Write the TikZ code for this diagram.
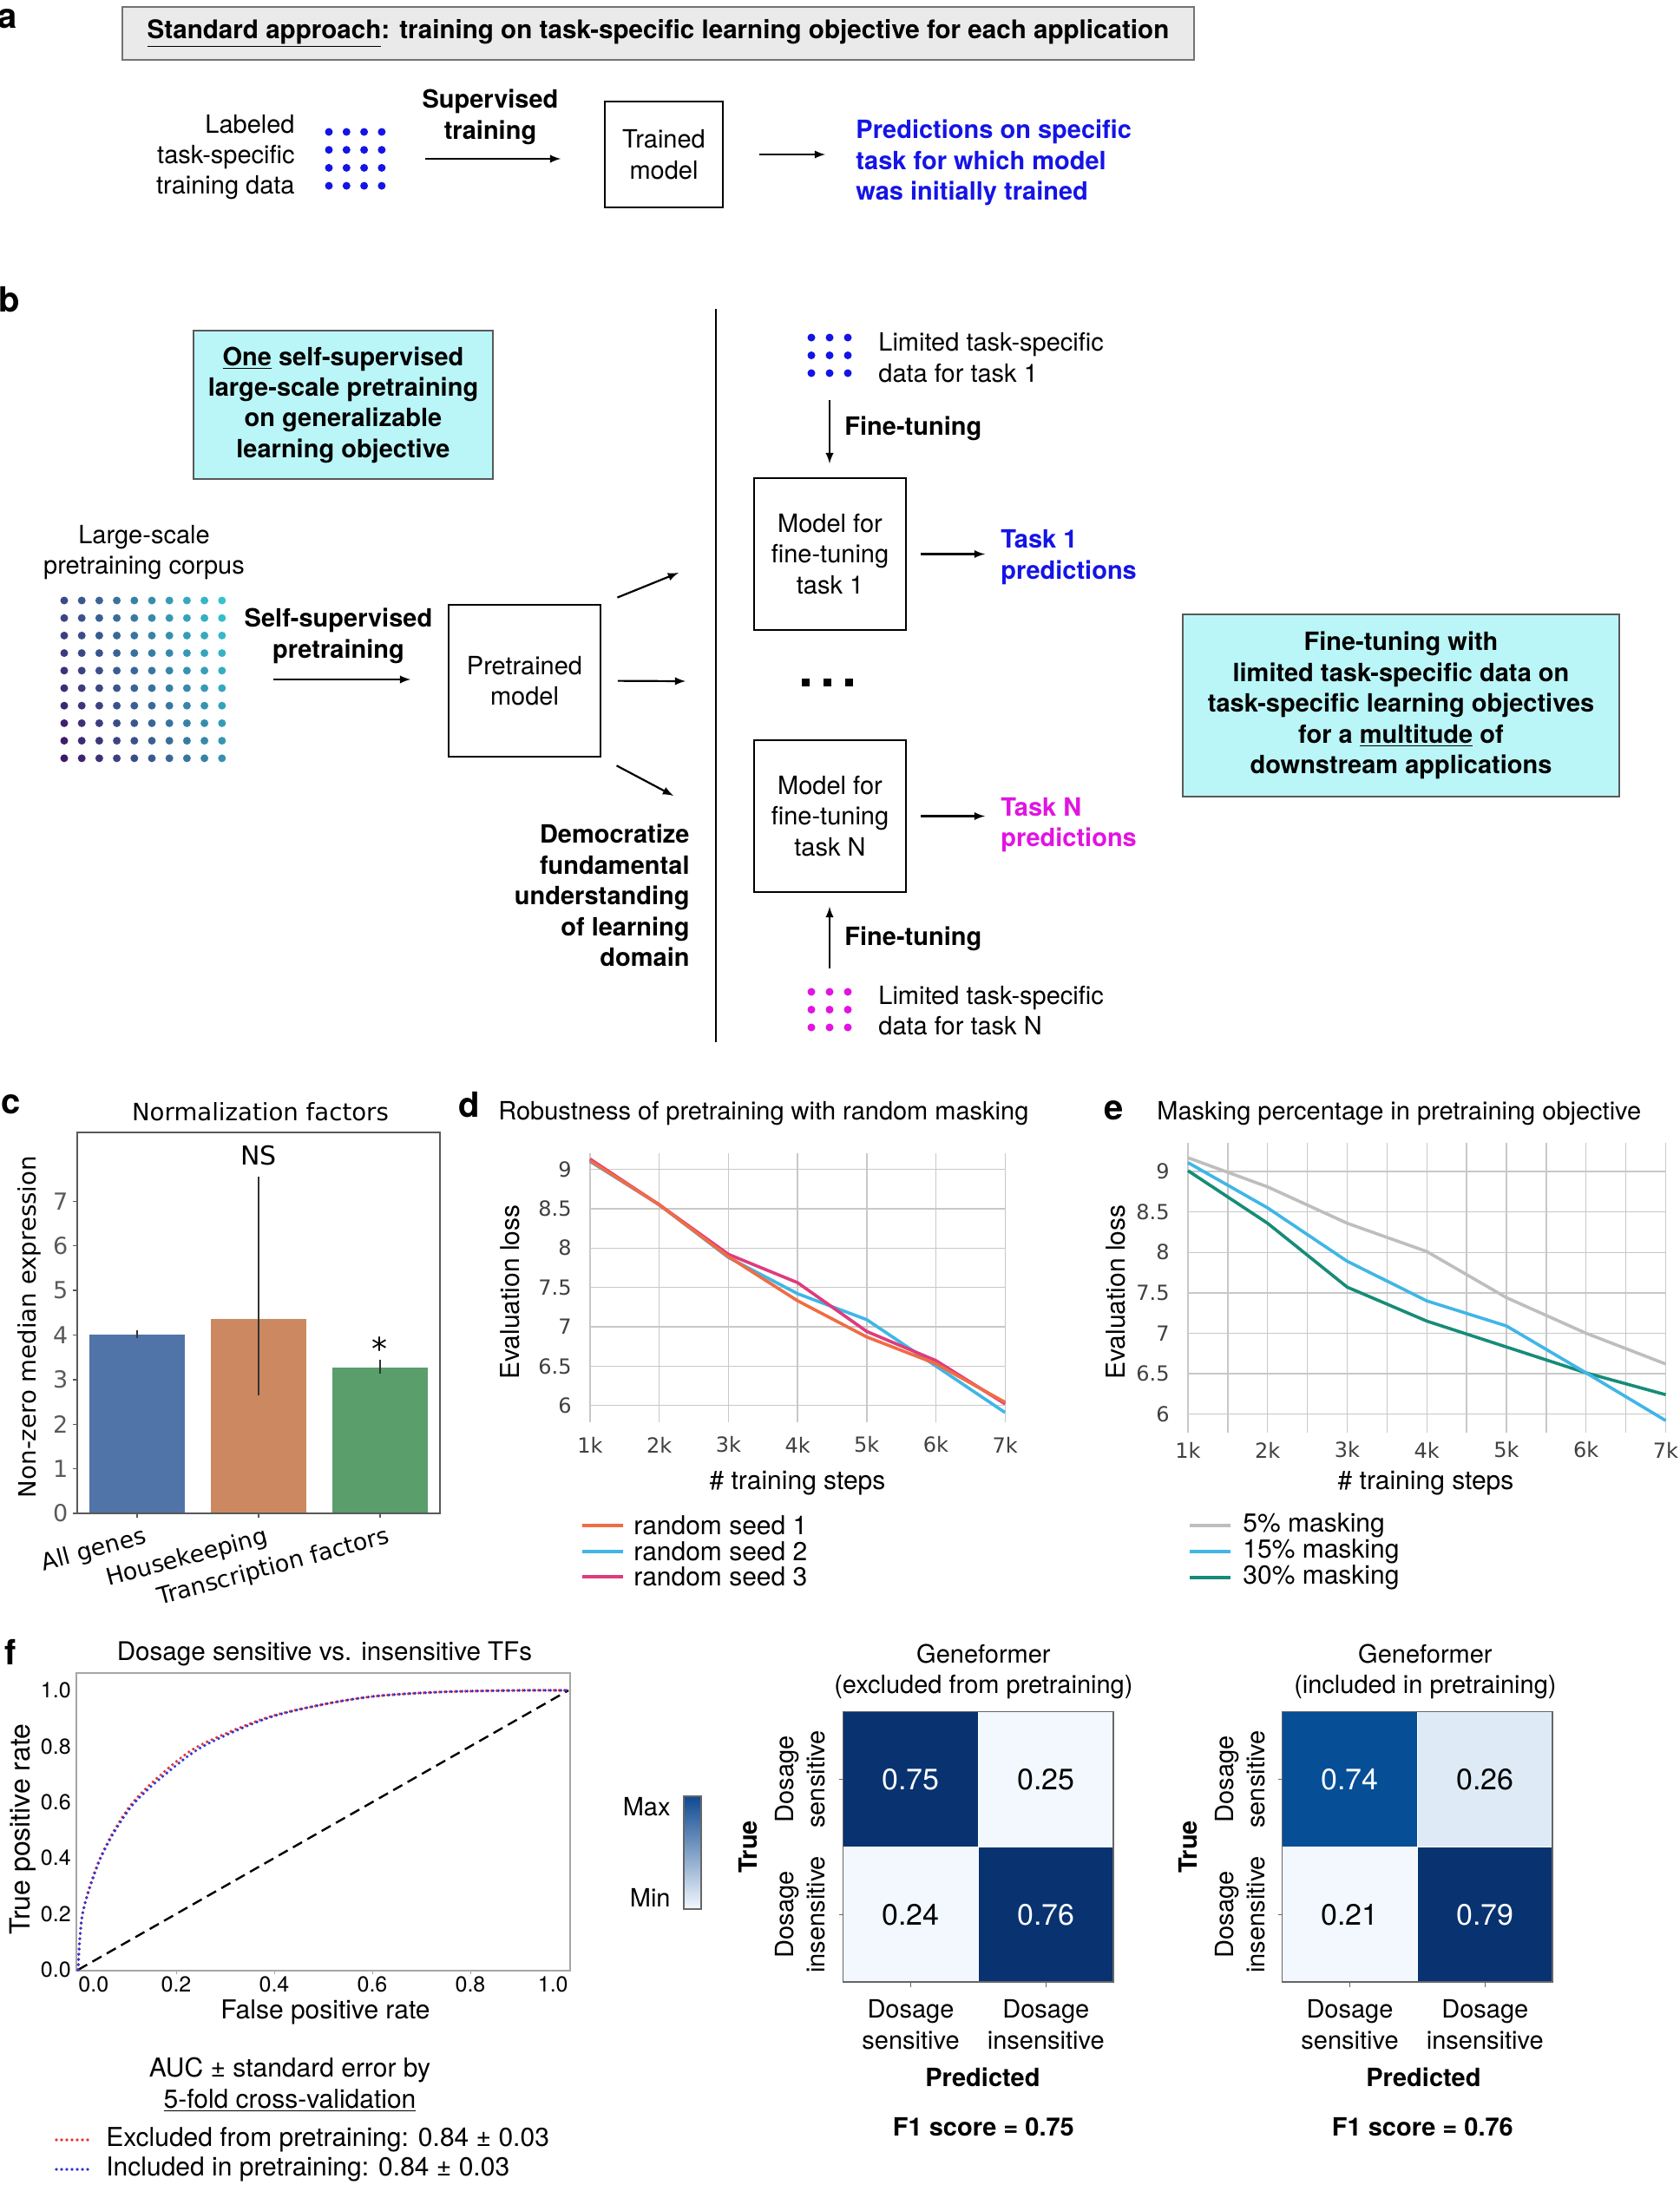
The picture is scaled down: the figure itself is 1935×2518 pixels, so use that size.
\documentclass[tikz,border=0pt]{standalone}
\usepackage{fontspec}
\setmainfont{TeX Gyre Heros}
\newfontfamily\djv{DejaVu Sans}
\usetikzlibrary{calc,arrows,positioning}
\newcommand\fsz{\fontsize{14.5}{17.7}\selectfont}
\newcommand\plotf{\djv\fontsize{12}{14}\selectfont}
\newcommand\barf{\djv\fontsize{13.5}{16}\selectfont}
\newcommand\rocf{\fontsize{12.5}{15}\selectfont}
\definecolor{txtblue}{RGB}{20,20,230}
\definecolor{txtmag}{RGB}{225,20,225}
\definecolor{boxcyan}{RGB}{186,246,248}
\definecolor{hdrgray}{RGB}{234,234,234}
\definecolor{cpurple}{RGB}{62,24,104}
\definecolor{cteal}{RGB}{52,196,206}
\definecolor{barblue}{RGB}{80,116,168}
\definecolor{barorange}{RGB}{204,136,96}
\definecolor{bargreen}{RGB}{90,158,108}
\definecolor{seedA}{RGB}{240,108,68}
\definecolor{seedB}{RGB}{64,182,230}
\definecolor{seedC}{RGB}{222,60,124}
\definecolor{maskA}{RGB}{190,190,190}
\definecolor{maskC}{RGB}{22,140,120}
\definecolor{gridgray}{RGB}{200,200,200}
\definecolor{rocred}{RGB}{230,50,50}
\definecolor{rocblue}{RGB}{50,50,210}
\definecolor{cmdark}{RGB}{8,50,112}
\definecolor{cmmid}{RGB}{6,78,150}
\definecolor{cmpale}{RGB}{222,235,247}
\definecolor{cmlight}{RGB}{242,248,254}
\definecolor{cbtop}{RGB}{16,74,145}

\begin{document}
\begin{tikzpicture}[x=0.5pt, y=-0.5pt, >=latex,
    every node/.style={inner sep=0pt, font=\fsz},
    txt/.style={align=center},
    lbl/.style={font=\fontsize{20}{20}\selectfont\bfseries},
    modelbox/.style={draw, line width=0.9pt, align=center, minimum width=87.5pt, minimum height=87.5pt},
    cyanbox/.style={draw=black!65, line width=0.7pt, fill=boxcyan, align=center, font=\fsz\bfseries},
    arr/.style={->, line width=1.1pt},
    gridln/.style={gridgray, line width=0.7pt},
    curve/.style={line width=1.8pt, line join=round},
    rocdot/.style={line width=1.8pt, line cap=round, dash pattern=on 0pt off 3pt},
    cell/.style={minimum width=77.5pt, minimum height=77.5pt, font=\fontsize{17}{20}\selectfont}]
\useasboundingbox (0,0) rectangle (1935,2518);

\node[lbl] (la) at (9,22) {a};
\node[fill=hdrgray, draw=black!55, line width=1pt, minimum width=617.5pt, minimum height=30.5pt, font=\fontsize{14.8}{17.7}\selectfont\bfseries] (hdr) at (758.5,38.5) {\underline{Standard approach}: training on task-specific learning objective for each application};
\node[align=right, anchor=east] (ltxt) at (340,181) {Labeled\\task-specific\\training data};
\node[minimum width=35pt, minimum height=35pt] (ad) at (409.5,183) {};
\foreach \i in {0,...,3}
  \foreach \j in {0,...,3}
    \fill[txtblue] ({379+20.3*\i},{152+20.7*\j}) circle (4.5);
\node[txt, font=\fsz\bfseries] (sup) at (565,135) {Supervised\\training};
\node[modelbox, minimum width=68pt, minimum height=61pt] (tm) at (765,178) {Trained\\model};
\node[align=left, anchor=west, text=txtblue, font=\fsz\bfseries] (pred) at (986,187.5) {Predictions on specific\\task for which model\\was initially trained};
\draw[arr, shorten <=22.75pt, shorten >=25pt] (ad.east) -- (ad.east -| tm.west);
\draw[arr, shorten <=20.5pt, shorten >=17.5pt] (tm.east) -- (tm.east -| pred.west);

\node[lbl] (lb) at (11,345) {b};
\node[cyanbox, minimum width=172.5pt, minimum height=85.5pt] (c1) at (395.5,466.5) {\underline{One} self-supervised\\large-scale pretraining\\on generalizable\\learning objective};
\node[txt] (ctxt) at (166,636.5) {Large-scale\\pretraining corpus};
\node[minimum width=95pt, minimum height=95pt] (cd) at (165,783) {};
\foreach \i in {0,...,9}
  \foreach \j in {0,...,9}{
    \pgfmathtruncatemacro\p{(70*\i+30*(9-\j))/9}
    \fill[cteal!\p!cpurple] ({74+20.2*\i},{692+20.2*\j}) circle (4.5);
  }
\node[txt, font=\fsz\bfseries] (ss) at (390,733) {Self-supervised\\pretraining};
\node[modelbox] (pm) at (604.5,784.5) {Pretrained\\model};
\draw[arr, shorten <=27.5pt, shorten >=21.5pt] (cd.east) -- (cd.east -| pm.west);
\coordinate (u1) at (782,660);
\coordinate (u2) at (790,785);
\coordinate (u3) at (776,917);
\draw[arr, shorten <=10pt] (pm.north east) -- (u1);
\draw[arr, shorten <=9.5pt] (pm.east) -- (u2);
\draw[arr, shorten <=10pt] (pm.south east) -- (u3);
\node[align=right, anchor=east, font=\fsz\bfseries] (dem) at (795,1032) {Democratize\\fundamental\\understanding\\of learning\\domain};
\draw[line width=0.9pt] (825,356) -- (825,1201);

\node[minimum width=25pt, minimum height=25pt] (bd) at (956,409.5) {};
\foreach \i in {0,...,2}
  \foreach \j in {0,...,2}
    \fill[txtblue] ({935+21*\i},{389+20.5*\j}) circle (4.5);
\node[align=left, anchor=west] (btxt) at (1012,412) {Limited task-specific\\data for task 1};
\node[modelbox] (m1) at (956.5,638.5) {Model for\\fine-tuning\\task 1};
\draw[arr, shorten <=13.25pt, shorten >=8pt] (bd.south) -- (bd.south |- m1.north);
\node[anchor=west, font=\fsz\bfseries] (ft1) at (973,494) {Fine-tuning};
\node[align=left, anchor=west, text=txtblue, font=\fsz\bfseries] (t1) at (1153,642) {Task 1\\predictions};
\draw[arr, shorten <=8pt, shorten >=9pt] (m1.east) -- (m1.east -| t1.west);
\foreach \i in {0,1,2}
  \fill ({923.5+25*\i},781.5) rectangle ++(9,9);
\node[modelbox] (mN) at (956.5,940.5) {Model for\\fine-tuning\\task N};
\node[align=left, anchor=west, text=txtmag, font=\fsz\bfseries] (tN) at (1153,950.5) {Task N\\predictions};
\draw[arr, shorten <=8pt, shorten >=9pt] (mN.east) -- (mN.east -| tN.west);
\node[minimum width=25pt, minimum height=25pt] (md) at (956,1163.5) {};
\foreach \i in {0,...,2}
  \foreach \j in {0,...,2}
    \fill[txtmag] ({935+21*\i},{1143+20.5*\j}) circle (4.5);
\node[align=left, anchor=west] (mtxt) at (1012,1164.5) {Limited task-specific\\data for task N};
\draw[arr, shorten <=11.25pt, shorten >=8pt] (md.north) -- (md.north |- mN.south);
\node[anchor=west, font=\fsz\bfseries] (ftN) at (973,1082) {Fine-tuning};
\node[cyanbox, minimum width=251.5pt, minimum height=105pt] (c2) at (1614.5,813) {Fine-tuning with\\limited task-specific data on\\task-specific learning objectives\\for a \underline{multitude} of\\downstream applications};

\node[lbl] (lc) at (13,1273) {c};
\node[font=\djv\fontsize{13.8}{16}\selectfont] (ttc) at (300,1281) {Normalization factors};
\node[rotate=90, font=\djv\fontsize{13.8}{16}\selectfont] (ylc) at (34,1529) {Non-zero median expression};
\begin{scope}[shift={(0,1744)}, yscale=-51.4]
  \fill[barblue] (103,0) rectangle (213,4.0);
  \fill[barorange] (243,0) rectangle (353,4.35);
  \fill[bargreen] (383,0) rectangle (493,3.27);
  \draw[black!65, line width=0.7pt] (89,0) rectangle (507,8.54);
  \foreach \v in {0,...,7}
    \draw[black!65, line width=0.7pt] (89,\v) -- (84,\v) node[anchor=east, xshift=-2.5pt, font=\barf] {\v};
  \foreach \x in {158,298,438}
    \draw[black!65, line width=0.7pt] (\x,0) -- (\x,-0.1);
  \draw[line width=1.3pt, black!80] (158,3.93) -- (158,4.1) (298,2.65) -- (298,7.55) (438,3.13) -- (438,3.45);
  \node[font=\djv\fontsize{15}{18}\selectfont] (ns) at (298,8.03) {NS};
  \node[font=\djv\fontsize{18}{18}\selectfont] (st) at (437,3.7) {*};
  \node[rotate=15, anchor=north east, font=\barf] (xa) at (165,-0.27) {All genes};
  \node[rotate=15, anchor=north east, font=\barf] (xb) at (305,-0.27) {Housekeeping};
  \node[rotate=15, anchor=north east, font=\barf] (xc) at (445,-0.27) {Transcription factors};
\end{scope}

\node[lbl] (ld) at (541,1273) {d};
\node[anchor=west] (ttd) at (574,1283) {Robustness of pretraining with random masking};
\node[rotate=90, font=\fontsize{15}{18}\selectfont] (yld) at (588,1489) {Evaluation loss};
\node[font=\fontsize{15}{18}\selectfont] (xld) at (919,1709) {\# training steps};
\begin{scope}[shift={(600.3,2163.8)}, xscale=79.7, yscale=-90.7]
  \foreach \k in {1,...,7}{
    \draw[gridln] (\k,5.786) -- (\k,9.2);
    \node[font=\plotf, text=black!75] (dx\k) at (\k,5.5) {\k k};
  }
  \foreach \v in {6,6.5,7,7.5,8,8.5,9}{
    \draw[gridln] (1,\v) -- (7,\v);
    \node[anchor=east, font=\plotf, text=black!75] at (0.736,\v) {\v};
  }
  \draw[seedB, curve] plot coordinates {(1,9.1) (2,8.55) (3,7.88) (4,7.42) (5,7.09) (6,6.5) (7,5.91)};
  \draw[seedC, curve] plot coordinates {(1,9.13) (2,8.55) (3,7.92) (4,7.56) (5,6.94) (6,6.57) (7,6.02)};
  \draw[seedA, curve] plot coordinates {(1,9.11) (2,8.55) (3,7.89) (4,7.33) (5,6.87) (6,6.53) (7,6.04)};
\end{scope}
\foreach \c/\t/\yy in {seedA/random seed 1/1758, seedB/random seed 2/1788, seedC/random seed 3/1817}{
  \draw[\c, line width=1.8pt] (671,\yy) -- (718,\yy);
  \node[anchor=west, font=\fontsize{15}{18}\selectfont] (lg\c) at (730,\yy) {\t};
}

\node[lbl] (le) at (1284,1280) {e};
\node[anchor=west] (tte) at (1333,1283) {Masking percentage in pretraining objective};
\node[rotate=90, font=\fontsize{15}{18}\selectfont] (yle) at (1286,1489) {Evaluation loss};
\node[font=\fontsize{15}{18}\selectfont] (xle) at (1643,1709) {\# training steps};
\begin{scope}[shift={(1277.25,2188.8)}, xscale=91.75, yscale=-93.2]
  \foreach \k in {1,1.5,...,7}
    \draw[gridln] (\k,5.77) -- (\k,9.354);
  \foreach \k in {1,...,7}
    \node[font=\plotf, text=black!75] (ex\k) at (\k,5.556) {\k k};
  \foreach \v in {6,6.5,7,7.5,8,8.5,9}{
    \draw[gridln] (1,\v) -- (7,\v);
    \node[anchor=east, font=\plotf, text=black!75] at (0.771,\v) {\v};
  }
  \draw[maskA, curve] plot coordinates {(1,9.17) (2,8.81) (3,8.36) (4,8.01) (5,7.44) (6,7.0) (7,6.62)};
  \draw[maskC, curve] plot coordinates {(1,9.01) (2,8.36) (3,7.57) (4,7.15) (5,6.83) (6,6.51) (7,6.24)};
  \draw[seedB, curve] plot coordinates {(1,9.11) (2,8.55) (3,7.89) (4,7.4) (5,7.09) (6,6.51) (7,5.92)};
\end{scope}
\foreach \c/\t/\yy in {maskA/5\% masking/1758, seedB/15\% masking/1788, maskC/30\% masking/1818}{
  \draw[\c, line width=1.8pt] (1371,\yy) -- (1418,\yy);
  \node[anchor=west, font=\fontsize{15}{18}\selectfont] (lm\c) at (1432,\yy) {\t};
}

\node[lbl] (lf) at (12,1904) {f};
\node[font=\fontsize{14.8}{18}\selectfont] (ttf) at (374,1906) {Dosage sensitive vs. insensitive TFs};
\node[rotate=90, font=\fontsize{16}{18}\selectfont] (ylf) at (26,2108) {True positive rate};
\node[font=\fontsize{15}{18}\selectfont] (xlf) at (375,2319) {False positive rate};
\begin{scope}[shift={(90,2270)}, xscale=565, yscale=-322]
  \draw[black!35, line width=0.7pt] (-0.0035,-0.003) rectangle (1.0035,1.062);
  \foreach \u in {0.2,0.4,0.6,0.8}{
    \draw[black!35] (\u,0) -- (\u,-0.015);
    \node[font=\rocf] at (\u,-0.053) {\u};
  }
  \node[anchor=west, font=\rocf] at (0,-0.053) {0.0};
  \node[anchor=east, font=\rocf] at (1,-0.053) {1.0};
  \foreach \w/\t in {0/0.0,0.2/0.2,0.4/0.4,0.6/0.6,0.8/0.8,1/1.0}
    \node[anchor=east, font=\rocf] at (-0.014,\w) {\t};
  \draw[line width=1.2pt, dash pattern=on 6pt off 3.5pt] (0,0) -- (1,1);
  \draw[rocred, rocdot] plot[smooth] coordinates {(0,0) (0.003,0.1) (0.009,0.2) (0.024,0.3) (0.045,0.4) (0.074,0.5) (0.112,0.6) (0.17,0.7) (0.245,0.8) (0.38,0.9) (0.5,0.95) (0.61,0.98) (0.75,0.995) (0.9,1) (1,1)};
  \draw[rocblue, rocdot] plot[smooth] coordinates {(0,0) (0.003,0.1) (0.009,0.2) (0.025,0.3) (0.046,0.4) (0.076,0.5) (0.116,0.6) (0.178,0.7) (0.255,0.8) (0.385,0.9) (0.5,0.95) (0.61,0.98) (0.75,0.995) (0.9,1) (1,1)};
\end{scope}
\node[txt, font=\fontsize{15}{17.7}\selectfont] (auc) at (334,2402.5) {AUC ± standard error by\\\underline{5-fold cross-validation}};
\draw[rocred, rocdot] (65,2466) -- (106,2466);
\node[anchor=west, font=\fontsize{15}{18}\selectfont] (lex) at (122,2466) {Excluded from pretraining: 0.84 ± 0.03};
\draw[rocblue, rocdot] (65,2500) -- (106,2500);
\node[anchor=west, font=\fontsize{15}{18}\selectfont] (lin) at (122,2500) {Included in pretraining: 0.84 ± 0.03};

\node[draw=black!60, line width=0.6pt, minimum width=10pt, minimum height=65pt, top color=cbtop, bottom color=cmlight] (cb) at (798,2135) {};
\node[anchor=east] (cmax) at (773,2082) {Max};
\node[anchor=east] (cmin) at (773,2187) {Min};

\node[cell, fill=cmdark, text=white] (p11) at (1049.5,2050.5) {0.75};
\node[cell, fill=cmlight, right=0pt of p11] (p12) {0.25};
\node[cell, fill=cmlight, below=0pt of p11] (p21) {0.24};
\node[cell, fill=cmdark, text=white, right=0pt of p21] (p22) {0.76};
\draw[black!60, line width=0.8pt] (p11.north west) rectangle (p22.south east);
\draw[black!60] (p11.west) -- ++(-5,0) (p21.west) -- ++(-5,0) (p21.south) -- ++(0,6) (p22.south) -- ++(0,6);
\node[rotate=90, align=center] (r11) at ($(p11.west)+(-49.5,0)$) {Dosage\\sensitive};
\node[rotate=90, align=center] (r12) at ($(p21.west)+(-49.5,0)$) {Dosage\\insensitive};
\node[rotate=90, font=\fsz\bfseries] (tr1) at ($(p11.south west)+(-110,0)$) {True};
\node[align=center, below=10pt of p21] (k11) {Dosage\\sensitive};
\node[align=center, below=10pt of p22] (k12) {Dosage\\insensitive};
\node[font=\fsz\bfseries] (pd1) at ($(p21.south east)+(5,110)$) {Predicted};
\node[font=\fsz\bfseries] (fa) at ($(p21.south east)+(6,167)$) {F1 score = 0.75};
\node[align=center] (g1) at ($(p11.north east)+(6,-46)$) {Geneformer\\(excluded from pretraining)};

\node[cell, fill=cmmid, text=white] (q11) at (1555.5,2050.5) {0.74};
\node[cell, fill=cmpale, right=0pt of q11] (q12) {0.26};
\node[cell, fill=cmlight, below=0pt of q11] (q21) {0.21};
\node[cell, fill=cmdark, text=white, right=0pt of q21] (q22) {0.79};
\draw[black!60, line width=0.8pt] (q11.north west) rectangle (q22.south east);
\draw[black!60] (q11.west) -- ++(-5,0) (q21.west) -- ++(-5,0) (q21.south) -- ++(0,6) (q22.south) -- ++(0,6);
\node[rotate=90, align=center] (r21) at ($(q11.west)+(-48.5,0)$) {Dosage\\sensitive};
\node[rotate=90, align=center] (r22) at ($(q21.west)+(-48.5,0)$) {Dosage\\insensitive};
\node[rotate=90, font=\fsz\bfseries] (tr2) at ($(q11.south west)+(-109,0)$) {True};
\node[align=center, below=10pt of q21] (k21) {Dosage\\sensitive};
\node[align=center, below=10pt of q22] (k22) {Dosage\\insensitive};
\node[font=\fsz\bfseries] (pd2) at ($(q21.south east)+(7,110)$) {Predicted};
\node[font=\fsz\bfseries] (fb) at ($(q21.south east)+(6,167)$) {F1 score = 0.76};
\node[align=center] (g2) at ($(q11.north east)+(9,-46)$) {Geneformer\\(included in pretraining)};
\end{tikzpicture}
\end{document}
